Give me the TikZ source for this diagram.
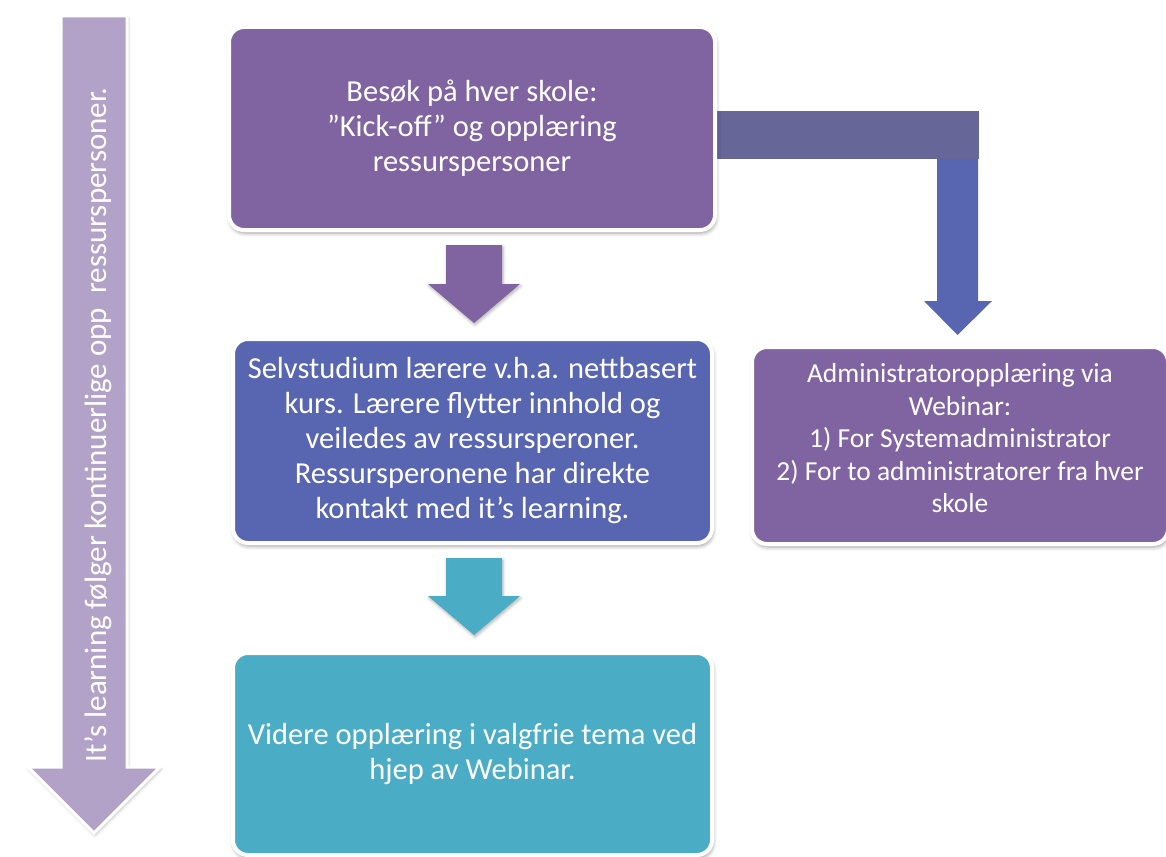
\documentclass[tikz,border=0pt]{standalone}
\usepackage{fontspec}
\setmainfont{Carlito}
\usetikzlibrary{shadows.blur}
\definecolor{purp}{HTML}{8064A2}
\definecolor{blu}{HTML}{5865B1}
\definecolor{tealc}{HTML}{4BACC6}
\definecolor{lav}{HTML}{B3A2C7}
\definecolor{slate}{HTML}{666699}
\begin{document}
\begin{tikzpicture}[x=1pt,y=-1pt,
  box/.style={rectangle, rounded corners=15pt, draw=white, line width=4pt,
    text=white, align=center, inner sep=0pt,
    blur shadow={shadow xshift=1pt, shadow yshift=-3pt, shadow blur radius=4pt, shadow opacity=40}},
  bigtext/.style={font=\fontsize{30.5}{35}\selectfont},
  smalltext/.style={font=\fontsize{27.5}{32.5}\selectfont},
  boxlabel/.style={text=white, align=center, inner sep=0pt}]
\useasboundingbox (0,0) rectangle (1166,856);

% left long arrow
\fill[lav, draw=white, line width=3pt, blur shadow={shadow xshift=1pt, shadow yshift=-2pt, shadow blur radius=3pt, shadow opacity=30}]
  (61,16) -- (127,16) -- (127,767) -- (160,767) -- (94,833) -- (28,767) -- (61,767) -- cycle;
\node[rotate=90, text=white, font=\fontsize{31}{34}\selectfont] (side) at (98,425)
  {It’s learning følger kontinuerlige opp\ \ ressurspersoner.};

% elbow connector to administrator box
\fill[slate] (700,111) rectangle (979,159);
\fill[blu] (937,159) -- (978,159) -- (978,301) -- (992,301) -- (957.5,335) -- (924,301) -- (937,301) -- cycle;

% boxes
\node[box, fill=purp, minimum width=486pt, minimum height=203pt, bigtext] (b1) at (472,128.5)
  {Besøk på hver skole:\\”Kick-off” og opplæring\\ressurspersoner};
\node[box, fill=blu, minimum width=479pt, minimum height=204pt, bigtext] (b2) at (472.5,441)
  {Selvstudium lærere v.h.a. nettbasert\\kurs. Lærere flytter innhold og\\veiledes av ressursperoner.\\Ressursperonene har direkte\\kontakt med it’s learning.};
\node[box, fill=tealc, minimum width=479pt, minimum height=202pt, bigtext] (b4) at (472.5,754)
  {Videre opplæring i valgfrie tema ved\\hjep av Webinar.};
\node[box, fill=purp, minimum width=416pt, minimum height=197pt] (b3) at (960,445.5) {};
\node[boxlabel, smalltext] (b3text) at ([yshift=7pt]b3.center)
  {Administratoropplæring via\\Webinar:\\1) For Systemadministrator\\2) For to administratorer fra hver\\skole};

% down block arrows
\fill[purp, blur shadow={shadow xshift=1pt, shadow yshift=-2pt, shadow blur radius=3pt, shadow opacity=30}]
  (446,245) -- (502,245) -- (502,284) -- (520,284) -- (474,323) -- (428,284) -- (446,284) -- cycle;
\fill[tealc, blur shadow={shadow xshift=1pt, shadow yshift=-2pt, shadow blur radius=3pt, shadow opacity=30}]
  (446,558) -- (502,558) -- (502,596) -- (520,596) -- (474,635) -- (428,596) -- (446,596) -- cycle;
\end{tikzpicture}
\end{document}
